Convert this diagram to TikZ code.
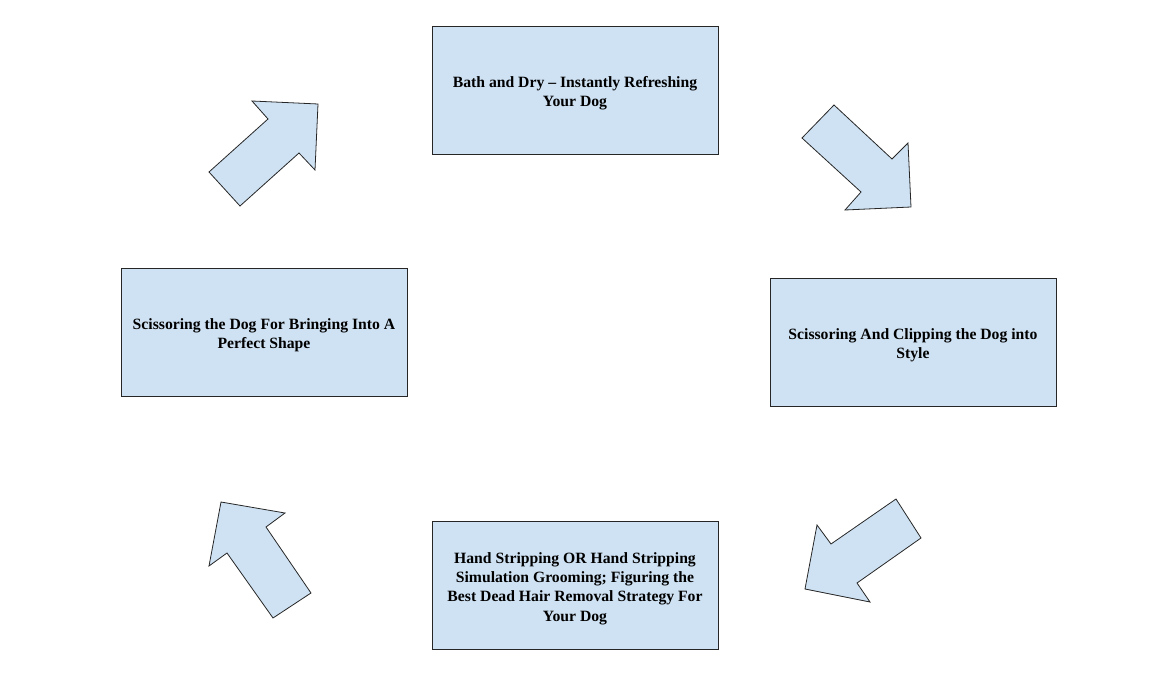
\documentclass[tikz,border=0pt]{standalone}
\usepackage{fontspec}
\setmainfont{Liberation Serif}
\usetikzlibrary{positioning}

\definecolor{stepblue}{HTML}{CFE2F3}
\newcommand{\toppad}{\rule{0pt}{17pt}}

\begin{document}
\begin{tikzpicture}[
    x=1pt, y=-1pt,
    stage/.style={draw=black!85, line width=0.8pt, rectangle, align=center, minimum width=286pt, minimum height=128pt, fill=stepblue, font=\fontsize{15.7}{19.3}\selectfont\bfseries},
    blockarrow/.style={draw=black!85, line width=0.8pt, fill=stepblue, line join=miter}
]
\useasboundingbox (0,0) rectangle (1165,676);

\node[stage] (bath) at (575,90) {\toppad Bath and Dry -- Instantly Refreshing\\Your Dog};
\node[stage] (clip) at (913,342) {\toppad Scissoring And Clipping the Dog into\\Style};
\node[stage] (strip) at (575,585.5) {\toppad Hand Stripping OR Hand Stripping\\Simulation Grooming; Figuring the\\Best Dead Hair Removal Strategy For\\Your Dog};
\node[stage] (shape) at (264,332.5) {\toppad Scissoring the Dog For Bringing Into A\\Perfect Shape};

% block arrows between the stages
\draw[blockarrow] (209,172) -- (268,119) -- (252,101) -- (318,104) -- (315,170) -- (299,153) -- (240,206) -- cycle;
\draw[blockarrow] (834,105) -- (892,159) -- (908,143) -- (911,207) -- (845,210) -- (861,192) -- (802,138) -- cycle;
\draw[blockarrow] (896,499) -- (921,538) -- (857,583) -- (870,602) -- (805,589) -- (817,525) -- (831,544) -- cycle;
\draw[blockarrow] (221,502) -- (285,513) -- (266,527) -- (311,593) -- (273,618) -- (227,553) -- (209,566) -- cycle;

\end{tikzpicture}
\end{document}
